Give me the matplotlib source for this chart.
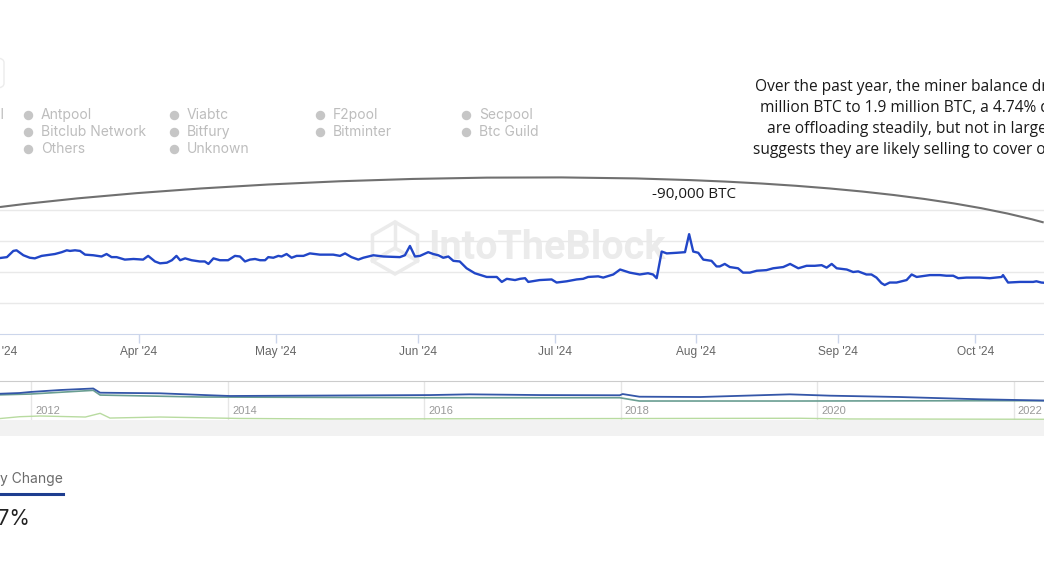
import matplotlib
matplotlib.use("Agg")
import matplotlib.pyplot as plt
import matplotlib.dates as mdates
from matplotlib.path import Path
from matplotlib.patches import PathPatch, RegularPolygon, Rectangle, FancyBboxPatch
from matplotlib.lines import Line2D
from matplotlib.transforms import ScaledTranslation
import pandas as pd

W, H = 1044, 562
start = pd.Timestamp("2024-03-01")

# miner balance (thousand BTC), x = days since 1 Mar 2024
bal_days = [0.0, 2.1, 3.5, 4.2, 5.7, 7.1, 8.2, 9.7, 12.6, 14.1,
            15.2, 15.9, 17.0, 18.1, 19.2, 21.0, 22.8, 23.9, 25.0, 26.1,
            27.9, 29.8, 31.9, 33.0, 34.5, 35.6, 37.1, 38.2, 39.2, 40.0,
            41.1, 42.5, 44.3, 45.4, 46.2, 47.3, 48.7, 50.5, 52.0, 53.1,
            54.2, 55.3, 56.4, 57.5, 58.6, 59.3, 60.4, 61.5, 62.2, 63.3,
            64.4, 65.5, 67.0, 68.4, 70.6, 73.5, 75.0, 76.1, 77.5, 79.0,
            80.1, 82.3, 84.5, 88.1, 89.2, 90.3, 91.4, 92.5, 94.3, 95.4,
            96.5, 97.6, 98.7, 99.8, 101.2, 102.7, 104.5, 107.1, 109.3, 110.4,
            111.5, 113.3, 114.4, 115.5, 116.2, 118.7, 121.3, 122.4, 124.6, 126.8,
            128.2, 129.3, 131.5, 132.6, 134.8, 136.3, 138.4, 140.6, 142.4, 143.5,
            144.3, 145.4, 146.5, 148.7, 150.5, 151.4, 152.3, 153.4, 154.5, 156.3,
            157.4, 158.1, 159.2, 160.3, 162.1, 163.2, 164.7, 166.2, 168.3, 169.8,
            172.0, 173.5, 175.3, 177.1, 178.9, 180.4, 181.5, 182.6, 183.7, 185.9,
            187.3, 188.4, 190.2, 191.3, 192.4, 193.5, 194.2, 195.3, 196.8, 199.0,
            200.1, 201.2, 204.1, 206.3, 207.7, 209.2, 210.3, 212.1, 215.0, 217.2,
            219.8, 220.1, 221.2, 223.8, 226.7, 227.4, 228.5, 230.3]
bal_values = [1922, 1924, 1934, 1935, 1927, 1923, 1922, 1926, 1929, 1932,
              1935, 1934, 1935, 1934, 1928, 1927, 1925, 1929, 1924, 1924,
              1920, 1921, 1920, 1926, 1917, 1914, 1915, 1919, 1926, 1919,
              1922, 1919, 1917, 1917, 1913, 1922, 1919, 1919, 1926, 1925,
              1917, 1920, 1921, 1919, 1919, 1924, 1923, 1926, 1925, 1929,
              1923, 1926, 1926, 1930, 1928, 1928, 1926, 1930, 1924, 1920,
              1923, 1927, 1925, 1924, 1927, 1942, 1925, 1926, 1932, 1929,
              1927, 1923, 1925, 1918, 1917, 1906, 1898, 1892, 1892, 1884,
              1889, 1887, 1889, 1890, 1884, 1887, 1888, 1883, 1885, 1888,
              1889, 1892, 1893, 1891, 1896, 1904, 1899, 1896, 1898, 1896,
              1890, 1933, 1930, 1931, 1932, 1961, 1933, 1931, 1920, 1918,
              1909, 1909, 1913, 1908, 1906, 1899, 1899, 1902, 1903, 1906,
              1908, 1913, 1906, 1910, 1910, 1911, 1907, 1913, 1906, 1904,
              1900, 1901, 1896, 1896, 1891, 1882, 1879, 1883, 1883, 1887,
              1896, 1892, 1895, 1895, 1894, 1894, 1890, 1891, 1891, 1890,
              1892, 1895, 1883, 1884, 1884, 1885, 1883, 1882]

# navigator series (million BTC) by year
nav_blue_years = [2011.6, 2011.88, 2011.99, 2012.29, 2012.63, 2012.70, 2013.31, 2013.82,
                  2014.02, 2016.06, 2016.46, 2017.18, 2017.99, 2018.02, 2018.19, 2018.81,
                  2019.72, 2020.13, 2020.84, 2021.65, 2022.4]
nav_blue = [2.53, 2.63, 2.73, 2.92, 3.07, 2.66, 2.60, 2.41, 2.34, 2.43, 2.50,
            2.43, 2.41, 2.53, 2.27, 2.24, 2.50, 2.37, 2.24, 2.02, 1.88]
nav_teal_years = [2011.6, 2011.99, 2012.63, 2012.70, 2013.72, 2016.06, 2017.99,
                  2018.19, 2019.82, 2021.86, 2022.4]
nav_teal = [2.43, 2.53, 2.89, 2.43, 2.24, 2.17, 2.17, 1.85, 1.85, 1.88, 1.88]
nav_green_years = [2011.6, 2011.88, 2012.09, 2012.55, 2012.70, 2012.80, 2013.31,
                   2014.12, 2015.04, 2019.82, 2020.33, 2022.4]
nav_green = [0.07, 0.32, 0.39, 0.29, 0.65, 0.19, 0.29, 0.15, 0.10, 0.17, 0.10, 0.07]
nav_year_ticks = [2012, 2014, 2016, 2018, 2020, 2022]

month_ticks = pd.date_range("2024-03-01", "2024-10-01", freq="MS")

legend_cols = [["Antpool", "Bitclub Network", "Others"],
               ["Viabtc", "Bitfury", "Unknown"],
               ["F2pool", "Bitminter"],
               ["Secpool", "Btc Guild"]]

note_lines = ["Over the past year, the miner balance dropped from 1.99",
              "million BTC to 1.9 million BTC, a 4.74% decline. Miners",
              "are offloading steadily, but not in large amounts, which",
              "suggests they are likely selling to cover operational costs."]


def fx(px):
    return px / W


def fy(py):
    return 1 - py / H


def day(d):
    return mdates.date2num(start + pd.Timedelta(days=d))


fig = plt.figure(figsize=(W / 100, H / 100), dpi=100)
fig.patch.set_facecolor("white")

# ---- main chart ----
ax = fig.add_axes([fx(-60), fy(334), fx(1104) - fx(-60), fy(179) - fy(334)])
dates = start + pd.to_timedelta(bal_days, unit="D")
ax.plot(dates, bal_values, color="#2146c7", lw=1.7, zorder=3, solid_joinstyle="round")
ax.set_xlim(day(-12.55), day(242.2))
ax.set_ylim(1800, 2050)
ax.set_yticks([1850, 1900, 1950, 2000])
ax.yaxis.grid(True, color="#e9e9e9", lw=1)
ax.tick_params(axis="y", length=0, labelleft=False)
for s in ["top", "left", "right"]:
    ax.spines[s].set_visible(False)
ax.spines["bottom"].set_color("#ccd6eb")
ax.set_xticks(month_ticks)
ax.xaxis.set_major_formatter(mdates.DateFormatter("%b '%y"))
ax.tick_params(axis="x", length=6.5, width=1, color="#ccd6eb", labelcolor="#666666",
               labelsize=8.6, pad=2)
for lab in ax.get_xticklabels():
    lab.set_family("Liberation Sans")

# watermark
ax.text(fx(428), fy(248), "IntoTheBlock", transform=fig.transFigure, fontsize=28.5,
        fontweight="bold", family="Roboto", color="#ebebeb", ha="left", va="center", zorder=1)
logo_tr = fig.dpi_scale_trans + ScaledTranslation(fx(395), fy(248), fig.transFigure)
ax.add_patch(RegularPolygon((0, 0), numVertices=6, radius=0.26, transform=logo_tr,
                            fill=False, edgecolor="#ebebeb", lw=2.5, zorder=1, clip_on=False))
for ex, ey in [(0, 0.26), (-0.225, -0.13), (0.225, -0.13)]:
    ax.add_line(Line2D([0, ex], [0, ey], transform=logo_tr, color="#ebebeb", lw=2.5,
                       zorder=1, clip_on=False))

# annotation arc spanning the period
arc = Path([(day(0.58), 2004.8), (day(55.3), 2056.5), (day(175.6), 2088.7), (day(229.0), 1979.9)],
           [Path.MOVETO, Path.CURVE4, Path.CURVE4, Path.CURVE4])
ax.add_patch(PathPatch(arc, transform=ax.transData, fill=False, edgecolor="#707070",
                       lw=1.5, clip_on=False, zorder=4))

fig.text(fx(652), fy(194), "-90,000 BTC", fontsize=11, family="Open Sans",
         color="#1a1a1a", ha="left", va="center")

# ---- navigator ----
nav = fig.add_axes([fx(-60), fy(420), fx(1104) - fx(-60), fy(381) - fy(420)])
nav.plot(nav_green_years, nav_green, color="#b8dba0", lw=1.0)
nav.plot(nav_teal_years, nav_teal, color="#6a9e92", lw=1.2)
nav.plot(nav_blue_years, nav_blue, color="#3456a8", lw=1.3)
nav.set_xlim(2011.07, 2022.92)
nav.set_ylim(0, 3.8)
nav.set_xticks(nav_year_ticks)
nav.xaxis.grid(True, color="#e6e6e6", lw=1)
nav.set_yticks([])
nav.tick_params(axis="x", length=0, labelbottom=False)
for s in ["bottom", "left", "right"]:
    nav.spines[s].set_visible(False)
nav.spines["top"].set_color("#cccccc")
for yr in nav_year_ticks:
    nav.annotate(str(yr), xy=(yr, 0), xycoords=("data", "axes fraction"), xytext=(3, 3),
                 textcoords="offset points", ha="left", va="bottom", fontsize=8,
                 family="Liberation Sans", color="#999999")

fig.add_artist(Rectangle((0, fy(436)), 1, fy(420) - fy(436), transform=fig.transFigure,
                         facecolor="#f2f2f2", edgecolor="none"))

# ---- legend (greyed) ----
fig.text(fx(4), fy(115), "Slushpool", fontsize=10, family="Inter", color="#bdbdbd",
         ha="right", va="center")
for ci, col in enumerate(legend_cols):
    mx = 28 + ci * 146
    for ri, name in enumerate(col):
        yy = 115 + ri * 17
        fig.add_artist(Line2D([fx(mx)], [fy(yy)], marker="o", markersize=5.8,
                              color="#c6c6c6", transform=fig.transFigure))
        fig.text(fx(mx + 13), fy(yy), name, fontsize=10, family="Inter", color="#bdbdbd",
                 ha="left", va="center")

fig.add_artist(FancyBboxPatch((fx(-40), fy(88)), fx(44), fy(58) - fy(88),
                              boxstyle="round,pad=0,rounding_size=0.008",
                              transform=fig.transFigure, fill=False,
                              edgecolor="#ececec", lw=1))

# ---- note text ----
for i, (line, x0) in enumerate(zip(note_lines, [755, 760, 767, 753])):
    fig.text(fx(x0), fy(87 + i * 21), line, fontsize=11.2, family="Open Sans",
             color="#1a1a1a", ha="left", va="center")

# ---- change tab ----
fig.text(fx(63), fy(479), "Yearly Change", fontsize=10, family="Inter", color="#6b6b6b",
         ha="right", va="center")
fig.add_artist(Line2D([fx(-5), fx(63)], [fy(494), fy(494)], color="#1e3d8f", lw=2.2,
                      transform=fig.transFigure))
fig.text(fx(30), fy(519), "-4.47%", fontsize=15, family="Inter", color="#222222",
         ha="right", va="center")

fig.savefig("out.png", dpi=100, facecolor="white")
